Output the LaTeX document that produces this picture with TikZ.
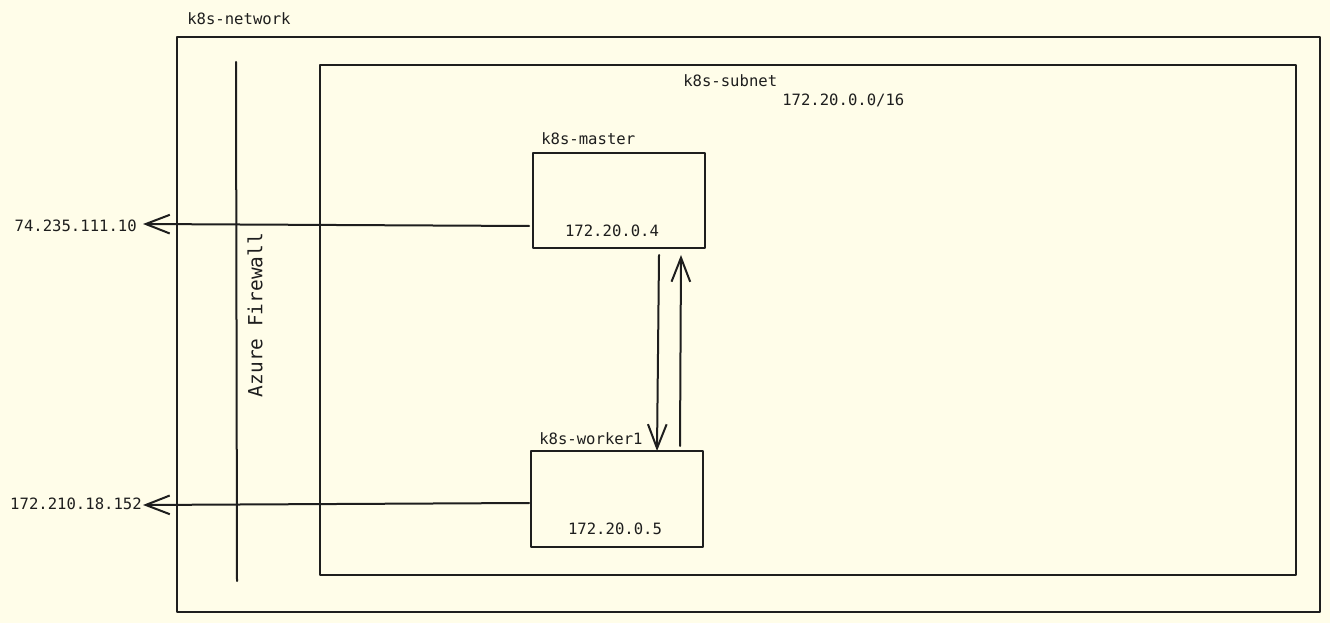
\documentclass[tikz,border=0pt]{standalone}
\usepackage{fontspec}
\setmonofont{DejaVu Sans Mono}
\usetikzlibrary{arrows.meta,calc}
\definecolor{bg}{HTML}{FFFDE9}
\definecolor{ink}{HTML}{1E1E1E}
\tikzset{
  stroke/.style={draw=ink, line width=1.5pt, line cap=round, line join=round},
  boxshape/.style={stroke, rectangle, inner sep=0pt, outer sep=0pt},
  txt/.style={text=ink, inner sep=0pt, font=\fontsize{11.7}{14}\selectfont\ttfamily},
  bigtxt/.style={text=ink, inner sep=0pt, font=\fontsize{14.6}{17}\selectfont\ttfamily},
  arr/.style={stroke, -{Straight Barb[length=18pt,width=14pt,line width=1.5pt]}},
}
\begin{document}
\begin{tikzpicture}[x=0.75pt, y=-0.75pt]
\fill[bg] (0,0) rectangle (1330,623);
\useasboundingbox (0,0) rectangle (1330,623);

% containers
\node[boxshape, minimum width=857.25pt, minimum height=431.25pt] (net) at (748.5,324.5) {};
\node[boxshape, minimum width=732pt, minimum height=382.5pt] (subnet) at (808,320) {};
\node[txt, anchor=west] (netlbl) at (187,19) {k8s-network};
\node[txt, anchor=west] (sublbl) at (683,81) {k8s-subnet};
\node[txt, anchor=west] (subip) at (782,100) {172.20.0.0/16};

% firewall
\coordinate (fw1) at (236,62);
\coordinate (fw2) at (237,581);
\draw[stroke] (fw1) -- (fw2);
\node[bigtxt, rotate=90] (fwlbl) at (255,315) {Azure Firewall};

% machines
\node[boxshape, minimum width=129pt, minimum height=71.25pt] (master) at (619,200.5) {};
\node[txt, anchor=west] (mlbl) at (541,139) {k8s-master};
\node[txt] (mip) at (612,231) {172.20.0.4};

\node[boxshape, minimum width=129pt, minimum height=72pt] (worker) at (617,499) {};
\node[txt, anchor=west] (wlbl) at (539,439) {k8s-worker1};
\node[txt] (wip) at (615,529) {172.20.0.5};

% external IPs
\node[txt, anchor=east] (pub1) at (137,226) {74.235.111.10};
\node[txt, anchor=east] (pub2) at (142,504) {172.210.18.152};

% connectors
\draw[arr] ($(master.west)+(-4,25.5)$) -- ($(pub1.east)+(6,-2)$);
\draw[arr] ($(worker.west)+(-2,4)$) -- ($(pub2.east)+(1,1)$);
\draw[arr] ($(master.south)+(40,7)$) -- ($(worker.north)+(40,0)$);
\draw[arr] ($(worker.north)+(63,-5)$) -- ($(master.south)+(62,7)$);
\end{tikzpicture}
\end{document}
